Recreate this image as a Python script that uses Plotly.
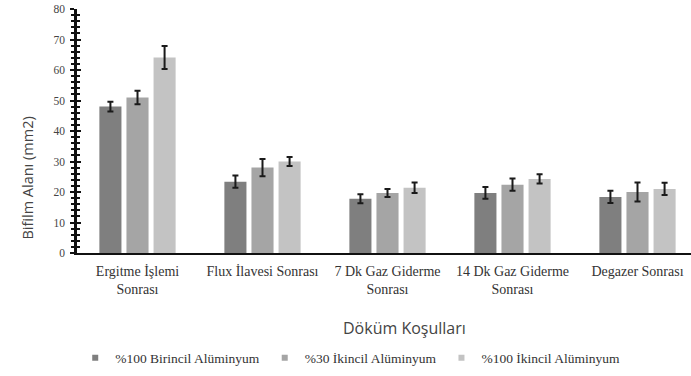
import plotly.graph_objects as go

categories = ["Ergitme İşlemi<br>Sonrası", "Flux İlavesi Sonrası", "7 Dk Gaz Giderme<br>Sonrası",
              "14 Dk Gaz Giderme<br>Sonrası", "Degazer Sonrası"]
series_names = ["%100 Birincil Alüminyum", "%30 İkincil Alüminyum", "%100 İkincil Alüminyum"]
primary_100 = [48.0, 23.4, 17.8, 19.7, 18.4]
primary_100_err = [1.6, 2.0, 1.5, 1.9, 2.0]
secondary_30 = [51.0, 28.0, 19.7, 22.4, 20.0]
secondary_30_err = [2.2, 2.8, 1.3, 2.0, 3.1]
secondary_100 = [64.1, 30.0, 21.4, 24.3, 21.0]
secondary_100_err = [3.8, 1.5, 1.7, 1.5, 2.0]
colors = ["#7f7f7f", "#a5a5a5", "#c3c3c3"]
y_ticks = [0, 10, 20, 30, 40, 50, 60, 70, 80]

values = [primary_100, secondary_30, secondary_100]
errors = [primary_100_err, secondary_30_err, secondary_100_err]

serif = "Liberation Serif, Times New Roman, serif"
sans = "Open Sans, Liberation Sans, sans-serif"

fig = go.Figure()
for name, vals, errs, col in zip(series_names, values, errors, colors):
    fig.add_trace(go.Bar(
        x=list(range(len(categories))), y=vals, name=name, showlegend=False,
        marker=dict(color=col, line=dict(width=0)),
        error_y=dict(type="data", array=errs, visible=True, color="#1a1a1a", thickness=2, width=3),
    ))
# legend proxies
for name, col in zip(series_names, colors):
    fig.add_trace(go.Scatter(
        x=[None], y=[None], mode="markers", name=name,
        marker=dict(symbol="square", size=6, color=col),
    ))

fig.update_layout(
    width=691, height=376,
    margin=dict(l=77, r=0, t=9, b=123),
    paper_bgcolor="white", plot_bgcolor="white",
    barmode="group", bargap=0.35, bargroupgap=0.185,
    font=dict(family=serif, size=11, color="#222"),
    showlegend=True,
    legend=dict(orientation="h", x=0.445, xanchor="center", y=-0.43, yanchor="middle",
                font=dict(family=serif, size=13.5, color="#333"),
                itemwidth=30, tracegroupgap=0),
    xaxis=dict(
        range=[-0.484, 4.428], automargin=False,
        tickmode="array", tickvals=list(range(len(categories))), ticktext=categories,
        showgrid=False, zeroline=False,
        showline=True, linecolor="#111", linewidth=2,
        ticks="", ticklabelstandoff=4, tickfont=dict(family=serif, size=14, color="#333"),
    ),
    yaxis=dict(
        range=[0, 80], tickmode="array", tickvals=y_ticks, automargin=False,
        showgrid=False, zeroline=False,
        showline=True, linecolor="#111", linewidth=2.5,
        ticks="outside", ticklen=4, tickwidth=2, tickcolor="#111",
        ticklabelstandoff=3,
        minor=dict(dtick=2, ticks="outside", ticklen=3, tickwidth=2, tickcolor="#111"),
        tickfont=dict(family=serif, size=11.5, color="#444"),
    ),
    yaxis2=dict(
        range=[0, 80], overlaying="y", side="left", tickmode="array", tickvals=y_ticks,
        showgrid=False, zeroline=False, showline=False, showticklabels=False, automargin=False,
        ticks="inside", ticklen=4, tickwidth=2, tickcolor="#111",
        minor=dict(dtick=2, ticks="inside", ticklen=3, tickwidth=2, tickcolor="#111"),
    ),
    annotations=[
        dict(text="Döküm Koşulları", xref="paper", yref="paper", x=0.534, y=-0.307,
             xanchor="center", yanchor="middle", showarrow=False,
             font=dict(family=sans, size=16, color="#444")),
        dict(text="Bifilm Alanı (mm2)", xref="paper", yref="paper", x=-0.0798, y=0.305,
             xanchor="center", yanchor="middle", showarrow=False, textangle=-90,
             font=dict(family=sans, size=14.5, color="#444")),
    ],
)
fig.add_trace(go.Scatter(x=[None], y=[None], yaxis="y2", showlegend=False))

fig.write_html("out.html", config={"displayModeBar": False})

# remove the default page margin so the figure sits at the window origin
with open("out.html", encoding="utf-8") as f:
    html = f.read()
html = html.replace("<head>", "<head><style>html,body{margin:0;padding:0;}</style>", 1)
with open("out.html", "w", encoding="utf-8") as f:
    f.write(html)
